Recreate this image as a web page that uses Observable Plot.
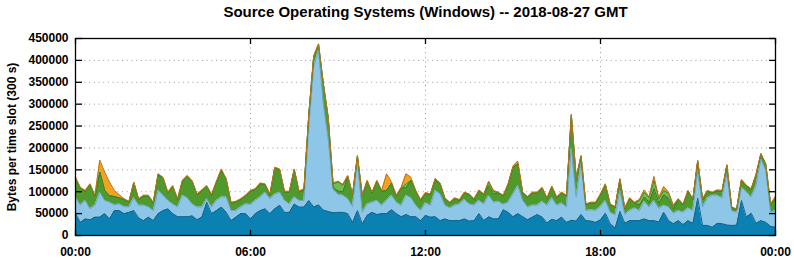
<!DOCTYPE html>
<html>
<head>
<meta charset="utf-8">
<script src="https://cdn.jsdelivr.net/npm/d3@7"></script>
<script src="https://cdn.jsdelivr.net/npm/@observablehq/plot@0.6"></script>
<style>
html, body { margin: 0; padding: 0; background: #fff; }
#chart svg { display: block; }
</style>
</head>
<body>
<div id="chart"></div>
<script>
const title = "Source Operating Systems (Windows) -- 2018-08-27 GMT";
const yLabel = "Bytes per time slot (300 s)";
const xTickHours = [0, 6, 12, 18, 24];
const xTickLabels = ["00:00", "06:00", "12:00", "18:00", "00:00"];
const yTicks = [0, 50000, 100000, 150000, 200000, 250000, 300000, 350000, 400000, 450000];
const slotMinutes = 10;

const seriesNames = ["OS 1", "OS 2", "OS 3", "OS 4", "OS 5"];
const fillColors = ["#0b80b2", "#8dc6e6", "#4f9a2d", "#6cbf4c", "#f2a21e"];
const edgeColors = ["#17648a", "#6da7c8", "#3b7a22", "#3f8526", "#b8741c"];

// layer thickness, thousands of bytes per slot, one value every 10 minutes (00:00 .. 24:00)
const darkBlue = [
  50,30,38,36,42,42,50,38,57,57,
  50,53,57,40,34,42,34,50,57,61,
  50,43,43,43,45,36,42,76,50,57,
  65,53,34,42,50,50,38,50,57,61,
  50,61,69,53,53,72,65,65,80,65,
  70,58,55,52,53,53,50,30,57,27,
  46,53,48,50,50,59,50,43,48,43,
  43,34,46,42,43,34,38,34,34,34,
  38,33,34,50,34,43,38,38,59,53,
  43,50,43,36,42,48,42,29,37,34,
  42,30,35,33,48,34,33,30,36,51,
  27,17,55,28,34,34,34,38,34,34,
  31,53,34,27,34,25,34,28,85,23,
  23,19,28,27,24,23,24,80,42,51,
  28,34,30,21,19];
const lightBlue = [
  38,39,42,25,27,57,30,38,13,15,
  16,12,29,29,35,23,23,53,35,19,
  22,22,49,43,27,29,23,8,15,23,
  23,35,23,15,15,22,33,30,31,38,
  34,33,30,27,19,16,15,15,168,320,
  355,242,165,53,41,39,34,36,114,26,
  26,23,32,19,30,33,26,26,44,43,
  26,23,29,27,60,61,31,29,35,38,
  44,39,35,30,38,49,38,40,12,23,
  52,64,37,29,27,21,36,40,49,35,
  32,35,165,55,117,23,26,27,30,29,
  26,30,48,20,23,29,23,40,31,46,
  31,16,31,24,23,28,29,29,65,42,
  63,73,64,59,117,33,29,30,58,37,
  86,141,119,32,38];
const green = [
  43,39,21,55,21,46,23,15,19,14,
  16,11,34,13,21,25,17,36,39,17,
  40,17,32,49,51,28,37,28,27,42,
  60,40,17,19,17,18,30,25,30,17,
  9,60,51,19,27,62,19,25,28,23,
  11,45,48,5,8,8,51,27,10,37,
  52,21,44,32,23,28,14,39,18,40,
  32,23,21,24,25,23,15,11,15,8,
  15,21,13,22,21,22,19,19,19,40,
  61,50,17,22,28,28,30,15,25,17,
  23,25,75,43,16,13,15,17,27,36,
  17,17,25,13,27,11,13,10,11,27,
  12,24,20,10,25,17,38,25,20,17,
  15,5,10,15,19,7,6,16,13,17,
  24,11,13,17,30];
const lightGreen = [
  0,0,0,0,0,0,0,0,0,0,
  0,0,0,0,0,0,0,0,0,0,
  0,0,0,0,0,0,0,0,0,0,
  0,0,0,0,0,0,0,0,0,0,
  0,0,0,0,0,0,0,0,0,0,
  0,0,0,8,20,15,0,0,0,0,
  0,0,0,0,0,0,0,0,8,0,
  0,0,0,0,0,0,0,0,0,0,
  0,0,0,0,0,8,6,0,0,0,
  0,0,0,0,0,0,0,0,0,0,
  0,0,0,0,0,0,0,0,0,0,
  0,0,0,0,0,0,10,11,10,19,
  10,10,12,6,0,0,0,0,0,0,
  0,0,0,0,0,0,0,0,0,0,
  0,0,0,0,0];
const orange = [
  2,2,2,2,2,27,42,31,14,7,
  2,2,2,2,2,2,2,2,2,2,
  2,2,2,2,2,2,2,2,2,2,
  4,2,2,2,2,2,2,2,2,2,
  2,2,2,2,2,2,2,2,2,2,
  2,2,2,2,2,2,2,2,2,2,
  2,2,2,2,38,2,2,2,23,7,
  2,2,2,2,2,2,2,2,2,2,
  2,2,2,2,2,2,2,2,2,2,
  2,6,2,2,2,2,2,2,2,2,
  2,2,2,2,2,2,2,2,2,2,
  2,2,2,2,2,2,2,5,2,9,
  2,9,2,2,2,2,2,2,2,2,
  2,2,2,2,2,2,2,2,2,2,
  2,2,2,2,2];

const layers = [darkBlue, lightBlue, green, lightGreen, orange];
const table = [];
for (let i = 0; i < darkBlue.length; ++i) {
  layers.forEach((values, k) => {
    table.push({hour: i * slotMinutes / 60, series: seriesNames[k], bytes: values[i] * 1000});
  });
}
const fillOf = Object.fromEntries(seriesNames.map((s, k) => [s, fillColors[k]]));
const edgeOf = Object.fromEntries(seriesNames.map((s, k) => [s, edgeColors[k]]));

const font = `"Liberation Sans", Arial, sans-serif`;
const noText = () => "";
const chart = Plot.plot({
  width: 794,
  height: 260,
  marginLeft: 75,
  marginRight: 19,
  marginTop: 38,
  marginBottom: 25,
  style: {fontFamily: font, fontSize: "12px", fontWeight: "bold", background: "#fff", color: "#000"},
  x: {domain: [0, 24], axis: null},
  y: {domain: [0, 450000], axis: null},
  color: {type: "identity"},
  marks: [
    Plot.gridY(yTicks.slice(1, -1), {stroke: "#9a9a9a", strokeOpacity: 1, strokeWidth: 1, strokeDasharray: "1,3.7"}),
    Plot.gridX(xTickHours.slice(1, -1), {stroke: "#9a9a9a", strokeOpacity: 1, strokeWidth: 1, strokeDasharray: "1,3.7"}),
    Plot.areaY(table, {x: "hour", y: "bytes", z: "series", fill: d => fillOf[d.series], curve: "linear"}),
    Plot.lineY(table, Plot.stackY2({x: "hour", y: "bytes", z: "series", stroke: d => edgeOf[d.series], strokeWidth: 1, curve: "linear"})),
    Plot.frame({stroke: "#000", strokeWidth: 1.3}),
    Plot.axisY(yTicks, {anchor: "left", tickSize: 0, tickPadding: 7, label: null, tickFormat: d => String(d)}),
    Plot.axisY(yTicks, {anchor: "right", frameAnchor: "left", tickSize: 6, tickFormat: noText, label: null, strokeWidth: 1.3}),
    Plot.axisY(yTicks, {anchor: "left", frameAnchor: "right", tickSize: 6, tickFormat: noText, label: null, strokeWidth: 1.3}),
    Plot.axisX(xTickHours, {anchor: "bottom", tickSize: 0, tickPadding: 12, label: null, tickFormat: d => xTickLabels[xTickHours.indexOf(d)]}),
    Plot.axisX(xTickHours, {anchor: "top", frameAnchor: "bottom", tickSize: 6, tickFormat: noText, label: null, strokeWidth: 1.3}),
    Plot.axisX(xTickHours, {anchor: "bottom", frameAnchor: "top", tickSize: 6, tickFormat: noText, label: null, strokeWidth: 1.3}),
    Plot.text([title], {frameAnchor: "top", dy: -26, lineAnchor: "middle", textAnchor: "middle", fontSize: 15, fontWeight: "bold"}),
    Plot.text([yLabel], {frameAnchor: "left", rotate: -90, dx: -63, lineAnchor: "middle", textAnchor: "middle", fontSize: 12, fontWeight: "bold"})
  ]
});
document.getElementById("chart").appendChild(chart);
</script>
</body>
</html>
